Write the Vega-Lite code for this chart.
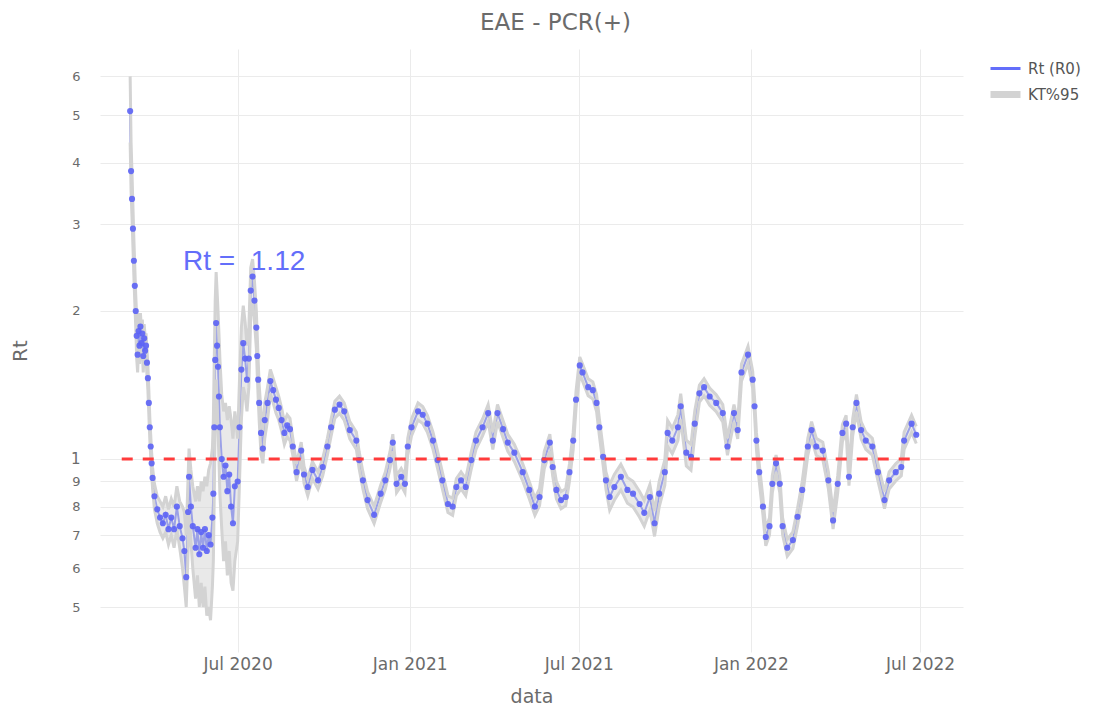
{
  "$schema": "https://vega.github.io/schema/vega-lite/v6.json",
  "width": 863,
  "height": 603,
  "autosize": {"type": "none"},
  "padding": {"left": 100, "top": 49, "right": 144, "bottom": 57},
  "background": "white",
  "config": {"view": {"stroke": null}, "font": "DejaVu Sans"},
  "title": {"text": "EAE - PCR(+)", "anchor": "middle", "frame": "group", "dx": 24, "fontSize": 23, "font": "DejaVu Sans", "fontWeight": "normal", "color": "#6b6b6b", "offset": 14},
  "datasets": {
    "rt": [
      {"d":"2020-03-08","r":5.1,"lo":4.4,"hi":6.0},
      {"d":"2020-03-09","r":3.85,"lo":3.5,"hi":4.4},
      {"d":"2020-03-10","r":3.38,"lo":3.1,"hi":3.8},
      {"d":"2020-03-11","r":2.94,"lo":2.7,"hi":3.25},
      {"d":"2020-03-12","r":2.53,"lo":2.35,"hi":2.8},
      {"d":"2020-03-13","r":2.25,"lo":2.08,"hi":2.45},
      {"d":"2020-03-14","r":2.0,"lo":1.85,"hi":2.15},
      {"d":"2020-03-15","r":1.78,"lo":1.6,"hi":1.95},
      {"d":"2020-03-16","r":1.63,"lo":1.5,"hi":1.82},
      {"d":"2020-03-17","r":1.82,"lo":1.68,"hi":1.98},
      {"d":"2020-03-18","r":1.7,"lo":1.56,"hi":1.86},
      {"d":"2020-03-19","r":1.86,"lo":1.72,"hi":1.98},
      {"d":"2020-03-20","r":1.72,"lo":1.6,"hi":1.85},
      {"d":"2020-03-21","r":1.8,"lo":1.66,"hi":1.92},
      {"d":"2020-03-22","r":1.62,"lo":1.5,"hi":1.76},
      {"d":"2020-03-23","r":1.76,"lo":1.64,"hi":1.88},
      {"d":"2020-03-24","r":1.66,"lo":1.55,"hi":1.78},
      {"d":"2020-03-25","r":1.7,"lo":1.6,"hi":1.8},
      {"d":"2020-03-26","r":1.57,"lo":1.48,"hi":1.67},
      {"d":"2020-03-27","r":1.46,"lo":1.38,"hi":1.55},
      {"d":"2020-03-28","r":1.3,"lo":1.23,"hi":1.38},
      {"d":"2020-03-29","r":1.16,"lo":1.1,"hi":1.22},
      {"d":"2020-03-30","r":1.06,"lo":1.01,"hi":1.12},
      {"d":"2020-03-31","r":0.98,"lo":0.93,"hi":1.03},
      {"d":"2020-04-01","r":0.915,"lo":0.87,"hi":0.96},
      {"d":"2020-04-03","r":0.84,"lo":0.79,"hi":0.89},
      {"d":"2020-04-06","r":0.79,"lo":0.74,"hi":0.84},
      {"d":"2020-04-09","r":0.76,"lo":0.71,"hi":0.82},
      {"d":"2020-04-12","r":0.74,"lo":0.69,"hi":0.8},
      {"d":"2020-04-15","r":0.77,"lo":0.71,"hi":0.84},
      {"d":"2020-04-18","r":0.72,"lo":0.67,"hi":0.79},
      {"d":"2020-04-21","r":0.76,"lo":0.7,"hi":0.83},
      {"d":"2020-04-24","r":0.72,"lo":0.66,"hi":0.8},
      {"d":"2020-04-27","r":0.8,"lo":0.72,"hi":0.88},
      {"d":"2020-04-30","r":0.73,"lo":0.66,"hi":0.82},
      {"d":"2020-05-03","r":0.69,"lo":0.6,"hi":0.8},
      {"d":"2020-05-05","r":0.65,"lo":0.55,"hi":0.78},
      {"d":"2020-05-07","r":0.575,"lo":0.5,"hi":0.7},
      {"d":"2020-05-09","r":0.78,"lo":0.65,"hi":0.92},
      {"d":"2020-05-10","r":0.92,"lo":0.78,"hi":1.05},
      {"d":"2020-05-12","r":0.8,"lo":0.68,"hi":0.95},
      {"d":"2020-05-14","r":0.73,"lo":0.6,"hi":0.88},
      {"d":"2020-05-17","r":0.66,"lo":0.52,"hi":0.82},
      {"d":"2020-05-19","r":0.72,"lo":0.58,"hi":0.88},
      {"d":"2020-05-21","r":0.64,"lo":0.5,"hi":0.82},
      {"d":"2020-05-23","r":0.71,"lo":0.56,"hi":0.9},
      {"d":"2020-05-25","r":0.66,"lo":0.5,"hi":0.86},
      {"d":"2020-05-27","r":0.72,"lo":0.55,"hi":0.92},
      {"d":"2020-05-29","r":0.65,"lo":0.48,"hi":0.88},
      {"d":"2020-05-31","r":0.7,"lo":0.5,"hi":0.95},
      {"d":"2020-06-02","r":0.67,"lo":0.47,"hi":0.98},
      {"d":"2020-06-04","r":0.76,"lo":0.55,"hi":1.05},
      {"d":"2020-06-05","r":0.85,"lo":0.62,"hi":1.2},
      {"d":"2020-06-06","r":1.16,"lo":0.85,"hi":1.6},
      {"d":"2020-06-07","r":1.59,"lo":1.2,"hi":2.1},
      {"d":"2020-06-08","r":1.89,"lo":1.45,"hi":2.4},
      {"d":"2020-06-09","r":1.7,"lo":1.3,"hi":2.2},
      {"d":"2020-06-10","r":1.54,"lo":1.15,"hi":2.0},
      {"d":"2020-06-11","r":1.34,"lo":1.0,"hi":1.8},
      {"d":"2020-06-12","r":1.16,"lo":0.85,"hi":1.6},
      {"d":"2020-06-14","r":1.0,"lo":0.72,"hi":1.35},
      {"d":"2020-06-16","r":0.92,"lo":0.62,"hi":1.25},
      {"d":"2020-06-18","r":0.97,"lo":0.68,"hi":1.3},
      {"d":"2020-06-20","r":0.86,"lo":0.58,"hi":1.2},
      {"d":"2020-06-22","r":0.93,"lo":0.65,"hi":1.28},
      {"d":"2020-06-24","r":0.8,"lo":0.56,"hi":1.2},
      {"d":"2020-06-26","r":0.74,"lo":0.54,"hi":1.1},
      {"d":"2020-06-28","r":0.88,"lo":0.62,"hi":1.25},
      {"d":"2020-07-01","r":0.9,"lo":0.68,"hi":1.1},
      {"d":"2020-07-03","r":1.16,"lo":0.9,"hi":1.45},
      {"d":"2020-07-05","r":1.52,"lo":1.2,"hi":1.85},
      {"d":"2020-07-07","r":1.72,"lo":1.4,"hi":2.05},
      {"d":"2020-07-09","r":1.6,"lo":1.35,"hi":1.9},
      {"d":"2020-07-11","r":1.45,"lo":1.25,"hi":1.7},
      {"d":"2020-07-13","r":1.6,"lo":1.4,"hi":1.85},
      {"d":"2020-07-15","r":2.2,"lo":1.95,"hi":2.45},
      {"d":"2020-07-17","r":2.35,"lo":2.1,"hi":2.55},
      {"d":"2020-07-19","r":2.1,"lo":1.9,"hi":2.3},
      {"d":"2020-07-21","r":1.85,"lo":1.68,"hi":2.0},
      {"d":"2020-07-22","r":1.62,"lo":1.48,"hi":1.78},
      {"d":"2020-07-23","r":1.45,"lo":1.33,"hi":1.58},
      {"d":"2020-07-24","r":1.3,"lo":1.2,"hi":1.42},
      {"d":"2020-07-26","r":1.13,"lo":1.02,"hi":1.25},
      {"d":"2020-07-28","r":1.05,"lo":0.98,"hi":1.14},
      {"d":"2020-07-30","r":1.2,"lo":1.1,"hi":1.3},
      {"d":"2020-08-02","r":1.3,"lo":1.2,"hi":1.4},
      {"d":"2020-08-05","r":1.44,"lo":1.36,"hi":1.52},
      {"d":"2020-08-08","r":1.38,"lo":1.3,"hi":1.46},
      {"d":"2020-08-11","r":1.32,"lo":1.24,"hi":1.4},
      {"d":"2020-08-14","r":1.27,"lo":1.2,"hi":1.34},
      {"d":"2020-08-17","r":1.2,"lo":1.14,"hi":1.27},
      {"d":"2020-08-20","r":1.13,"lo":1.07,"hi":1.19},
      {"d":"2020-08-23","r":1.17,"lo":1.11,"hi":1.23},
      {"d":"2020-08-26","r":1.15,"lo":1.09,"hi":1.21},
      {"d":"2020-08-29","r":1.06,"lo":1.018,"hi":1.102},
      {"d":"2020-09-02","r":0.94,"lo":0.902,"hi":0.978},
      {"d":"2020-09-07","r":1.04,"lo":0.998,"hi":1.082},
      {"d":"2020-09-10","r":0.93,"lo":0.893,"hi":0.967},
      {"d":"2020-09-14","r":0.877,"lo":0.842,"hi":0.912},
      {"d":"2020-09-19","r":0.95,"lo":0.912,"hi":0.988},
      {"d":"2020-09-25","r":0.905,"lo":0.869,"hi":0.941},
      {"d":"2020-09-30","r":0.963,"lo":0.924,"hi":1.002},
      {"d":"2020-10-05","r":1.06,"lo":1.018,"hi":1.102},
      {"d":"2020-10-09","r":1.16,"lo":1.114,"hi":1.206},
      {"d":"2020-10-13","r":1.26,"lo":1.21,"hi":1.31},
      {"d":"2020-10-18","r":1.29,"lo":1.238,"hi":1.342},
      {"d":"2020-10-23","r":1.25,"lo":1.2,"hi":1.3},
      {"d":"2020-10-29","r":1.145,"lo":1.099,"hi":1.191},
      {"d":"2020-11-05","r":1.09,"lo":1.046,"hi":1.134},
      {"d":"2020-11-08","r":0.995,"lo":0.955,"hi":1.035},
      {"d":"2020-11-12","r":0.905,"lo":0.869,"hi":0.941},
      {"d":"2020-11-17","r":0.825,"lo":0.792,"hi":0.858},
      {"d":"2020-11-24","r":0.77,"lo":0.739,"hi":0.801},
      {"d":"2020-12-01","r":0.85,"lo":0.816,"hi":0.884},
      {"d":"2020-12-06","r":0.905,"lo":0.869,"hi":0.941},
      {"d":"2020-12-11","r":0.995,"lo":0.955,"hi":1.035},
      {"d":"2020-12-14","r":1.08,"lo":1.037,"hi":1.123},
      {"d":"2020-12-18","r":0.89,"lo":0.854,"hi":0.926},
      {"d":"2020-12-23","r":0.92,"lo":0.883,"hi":0.957},
      {"d":"2020-12-27","r":0.89,"lo":0.854,"hi":0.926},
      {"d":"2020-12-30","r":1.06,"lo":1.018,"hi":1.102},
      {"d":"2021-01-03","r":1.16,"lo":1.114,"hi":1.206},
      {"d":"2021-01-10","r":1.25,"lo":1.2,"hi":1.3},
      {"d":"2021-01-15","r":1.23,"lo":1.181,"hi":1.279},
      {"d":"2021-01-20","r":1.18,"lo":1.133,"hi":1.227},
      {"d":"2021-01-26","r":1.09,"lo":1.046,"hi":1.134},
      {"d":"2021-01-31","r":0.995,"lo":0.955,"hi":1.035},
      {"d":"2021-02-05","r":0.905,"lo":0.869,"hi":0.941},
      {"d":"2021-02-11","r":0.81,"lo":0.778,"hi":0.842},
      {"d":"2021-02-16","r":0.8,"lo":0.768,"hi":0.832},
      {"d":"2021-02-20","r":0.877,"lo":0.842,"hi":0.912},
      {"d":"2021-02-25","r":0.905,"lo":0.869,"hi":0.941},
      {"d":"2021-03-02","r":0.877,"lo":0.842,"hi":0.912},
      {"d":"2021-03-08","r":0.995,"lo":0.955,"hi":1.035},
      {"d":"2021-03-13","r":1.09,"lo":1.046,"hi":1.134},
      {"d":"2021-03-20","r":1.16,"lo":1.114,"hi":1.206},
      {"d":"2021-03-26","r":1.24,"lo":1.19,"hi":1.29},
      {"d":"2021-03-31","r":1.09,"lo":1.046,"hi":1.134},
      {"d":"2021-04-05","r":1.24,"lo":1.19,"hi":1.29},
      {"d":"2021-04-11","r":1.15,"lo":1.104,"hi":1.196},
      {"d":"2021-04-16","r":1.08,"lo":1.037,"hi":1.123},
      {"d":"2021-04-23","r":1.03,"lo":0.989,"hi":1.071},
      {"d":"2021-05-02","r":0.94,"lo":0.902,"hi":0.978},
      {"d":"2021-05-09","r":0.865,"lo":0.83,"hi":0.9},
      {"d":"2021-05-15","r":0.8,"lo":0.768,"hi":0.832},
      {"d":"2021-05-20","r":0.837,"lo":0.804,"hi":0.87},
      {"d":"2021-05-25","r":0.995,"lo":0.955,"hi":1.035},
      {"d":"2021-05-31","r":1.08,"lo":1.037,"hi":1.123},
      {"d":"2021-06-03","r":0.963,"lo":0.924,"hi":1.002},
      {"d":"2021-06-07","r":0.865,"lo":0.83,"hi":0.9},
      {"d":"2021-06-12","r":0.825,"lo":0.792,"hi":0.858},
      {"d":"2021-06-17","r":0.837,"lo":0.804,"hi":0.87},
      {"d":"2021-06-21","r":0.94,"lo":0.902,"hi":0.978},
      {"d":"2021-06-25","r":1.09,"lo":1.046,"hi":1.134},
      {"d":"2021-06-28","r":1.32,"lo":1.267,"hi":1.373},
      {"d":"2021-07-02","r":1.55,"lo":1.488,"hi":1.612},
      {"d":"2021-07-05","r":1.5,"lo":1.44,"hi":1.56},
      {"d":"2021-07-11","r":1.4,"lo":1.344,"hi":1.456},
      {"d":"2021-07-16","r":1.38,"lo":1.325,"hi":1.435},
      {"d":"2021-07-20","r":1.3,"lo":1.248,"hi":1.352},
      {"d":"2021-07-23","r":1.16,"lo":1.114,"hi":1.206},
      {"d":"2021-07-27","r":1.01,"lo":0.97,"hi":1.05},
      {"d":"2021-07-30","r":0.905,"lo":0.869,"hi":0.941},
      {"d":"2021-08-03","r":0.837,"lo":0.787,"hi":0.887},
      {"d":"2021-08-08","r":0.877,"lo":0.824,"hi":0.93},
      {"d":"2021-08-15","r":0.92,"lo":0.865,"hi":0.975},
      {"d":"2021-08-22","r":0.865,"lo":0.813,"hi":0.917},
      {"d":"2021-08-28","r":0.85,"lo":0.799,"hi":0.901},
      {"d":"2021-09-04","r":0.81,"lo":0.761,"hi":0.859},
      {"d":"2021-09-09","r":0.777,"lo":0.73,"hi":0.824},
      {"d":"2021-09-15","r":0.837,"lo":0.787,"hi":0.887},
      {"d":"2021-09-20","r":0.74,"lo":0.696,"hi":0.784},
      {"d":"2021-09-25","r":0.85,"lo":0.799,"hi":0.901},
      {"d":"2021-10-01","r":0.94,"lo":0.884,"hi":0.996},
      {"d":"2021-10-04","r":1.13,"lo":1.062,"hi":1.198},
      {"d":"2021-10-09","r":1.09,"lo":1.025,"hi":1.155},
      {"d":"2021-10-15","r":1.16,"lo":1.09,"hi":1.23},
      {"d":"2021-10-18","r":1.28,"lo":1.203,"hi":1.357},
      {"d":"2021-10-24","r":1.03,"lo":0.968,"hi":1.092},
      {"d":"2021-10-29","r":1.01,"lo":0.949,"hi":1.071},
      {"d":"2021-11-02","r":1.18,"lo":1.109,"hi":1.251},
      {"d":"2021-11-07","r":1.36,"lo":1.306,"hi":1.414},
      {"d":"2021-11-12","r":1.4,"lo":1.344,"hi":1.456},
      {"d":"2021-11-18","r":1.34,"lo":1.286,"hi":1.394},
      {"d":"2021-11-25","r":1.3,"lo":1.248,"hi":1.352},
      {"d":"2021-12-02","r":1.24,"lo":1.19,"hi":1.29},
      {"d":"2021-12-07","r":1.06,"lo":1.018,"hi":1.102},
      {"d":"2021-12-14","r":1.24,"lo":1.19,"hi":1.29},
      {"d":"2021-12-18","r":1.145,"lo":1.099,"hi":1.191},
      {"d":"2021-12-22","r":1.5,"lo":1.44,"hi":1.56},
      {"d":"2021-12-29","r":1.63,"lo":1.565,"hi":1.695},
      {"d":"2022-01-03","r":1.45,"lo":1.392,"hi":1.508},
      {"d":"2022-01-05","r":1.28,"lo":1.229,"hi":1.331},
      {"d":"2022-01-07","r":1.09,"lo":1.046,"hi":1.134},
      {"d":"2022-01-10","r":0.94,"lo":0.902,"hi":0.978},
      {"d":"2022-01-14","r":0.8,"lo":0.768,"hi":0.832},
      {"d":"2022-01-17","r":0.694,"lo":0.666,"hi":0.722},
      {"d":"2022-01-21","r":0.73,"lo":0.701,"hi":0.759},
      {"d":"2022-01-24","r":0.89,"lo":0.854,"hi":0.926},
      {"d":"2022-01-28","r":0.98,"lo":0.941,"hi":1.019},
      {"d":"2022-02-01","r":0.89,"lo":0.854,"hi":0.926},
      {"d":"2022-02-04","r":0.73,"lo":0.701,"hi":0.759},
      {"d":"2022-02-09","r":0.66,"lo":0.634,"hi":0.686},
      {"d":"2022-02-15","r":0.684,"lo":0.657,"hi":0.711},
      {"d":"2022-02-20","r":0.763,"lo":0.732,"hi":0.794},
      {"d":"2022-02-25","r":0.865,"lo":0.83,"hi":0.9},
      {"d":"2022-03-03","r":1.06,"lo":1.018,"hi":1.102},
      {"d":"2022-03-07","r":1.145,"lo":1.099,"hi":1.191},
      {"d":"2022-03-12","r":1.06,"lo":1.018,"hi":1.102},
      {"d":"2022-03-19","r":1.04,"lo":0.998,"hi":1.082},
      {"d":"2022-03-25","r":0.905,"lo":0.869,"hi":0.941},
      {"d":"2022-03-30","r":0.75,"lo":0.72,"hi":0.78},
      {"d":"2022-04-04","r":0.89,"lo":0.854,"hi":0.926},
      {"d":"2022-04-09","r":1.13,"lo":1.085,"hi":1.175},
      {"d":"2022-04-13","r":1.18,"lo":1.133,"hi":1.227},
      {"d":"2022-04-16","r":0.92,"lo":0.883,"hi":0.957},
      {"d":"2022-04-20","r":1.16,"lo":1.114,"hi":1.206},
      {"d":"2022-04-24","r":1.3,"lo":1.248,"hi":1.352},
      {"d":"2022-04-29","r":1.145,"lo":1.099,"hi":1.191},
      {"d":"2022-05-04","r":1.09,"lo":1.046,"hi":1.134},
      {"d":"2022-05-11","r":1.06,"lo":1.018,"hi":1.102},
      {"d":"2022-05-17","r":0.94,"lo":0.902,"hi":0.978},
      {"d":"2022-05-24","r":0.825,"lo":0.792,"hi":0.858},
      {"d":"2022-05-29","r":0.905,"lo":0.869,"hi":0.941},
      {"d":"2022-06-05","r":0.94,"lo":0.902,"hi":0.978},
      {"d":"2022-06-11","r":0.963,"lo":0.924,"hi":1.002},
      {"d":"2022-06-14","r":1.09,"lo":1.046,"hi":1.134},
      {"d":"2022-06-22","r":1.18,"lo":1.133,"hi":1.227},
      {"d":"2022-06-27","r":1.12,"lo":1.075,"hi":1.165}
    ],
    "ref": [
      {"d":"2020-02-28","v":1},
      {"d":"2022-06-28","v":1}
    ],
    "ann": [
      {"d":"2020-07-08","v":2.52,"label":"Rt = \u00a01.12"}
    ]
  },
  "encoding": {
    "x": {
      "field": "d", "type": "temporal", "title": "data",
      "scale": {"type": "utc", "domain": [{"year": 2020, "month": 2, "date": 4, "hours": 18, "utc": true}, {"year": 2022, "month": 8, "date": 16, "utc": true}]},
      "axis": {
        "values": [
          {"year": 2020, "month": 7, "date": 1, "utc": true},
          {"year": 2021, "month": 1, "date": 1, "utc": true},
          {"year": 2021, "month": 7, "date": 1, "utc": true},
          {"year": 2022, "month": 1, "date": 1, "utc": true},
          {"year": 2022, "month": 7, "date": 1, "utc": true}
        ],
        "labelExpr": "utcFormat(datum.value, '%b %Y')",
        "grid": true, "gridColor": "#ebebeb", "gridWidth": 1,
        "domain": false, "ticks": false,
        "labelFont": "DejaVu Sans", "labelFontSize": 17, "labelColor": "#6b6b6b", "labelPadding": 4,
        "labelFlush": false, "labelOverlap": false,
        "titleFont": "DejaVu Sans", "titleFontSize": 19, "titleFontWeight": "normal", "titleColor": "#6b6b6b", "titlePadding": 15
      }
    }
  },
  "layer": [
    {
      "data": {"name": "rt"},
      "mark": {"type": "line", "strokeWidth": 2},
      "encoding": {
        "y": {
          "field": "r", "type": "quantitative", "title": "Rt",
          "scale": {"type": "log", "domain": [0.405, 6.82], "nice": false, "zero": false},
          "axis": {
            "values": [0.5, 0.6, 0.7, 0.8, 0.9, 1, 2, 3, 4, 5, 6],
            "labelExpr": "datum.value < 0.99 ? format(datum.value * 10, 'd') : format(datum.value, 'd')",
            "grid": true, "gridColor": "#ebebeb", "gridWidth": 1,
            "domain": false, "ticks": false,
            "labelFont": "DejaVu Sans", "labelColor": "#6b6b6b", "labelPadding": 20,
            "labelFontSize": {"condition": {"test": "datum.value == 1", "value": 15}, "value": 13},
            "titleFont": "DejaVu Sans", "titleFontSize": 20, "titleFontWeight": "normal", "titleColor": "#6b6b6b", "titlePadding": 40
          }
        },
        "color": {
          "datum": "Rt (R0)",
          "scale": {"domain": ["Rt (R0)", "KT%95"], "range": ["#636efa", "#d3d3d3"]},
          "legend": {
            "title": null, "orient": "none", "legendX": 898, "legendY": 12,
            "symbolType": "stroke", "symbolSize": 900, "symbolStrokeWidth": 3,
            "labelFont": "DejaVu Sans", "labelFontSize": 15, "labelColor": "#555555",
            "labelOffset": 15, "rowPadding": 3,
            "encode": {"symbols": {"update": {"strokeWidth": {"signal": "datum.value === 'KT%95' ? 7 : 3"}}}}
          }
        }
      }
    },
    {
      "data": {"name": "rt"},
      "mark": {"type": "area", "color": "#d3d3d3", "opacity": 0.5},
      "encoding": {
        "y": {"field": "lo", "type": "quantitative", "title": "Rt"},
        "y2": {"field": "hi"}
      }
    },
    {
      "data": {"name": "rt"},
      "mark": {"type": "line", "strokeWidth": 3},
      "encoding": {
        "y": {"field": "lo", "type": "quantitative", "title": "Rt"},
        "color": {"datum": "KT%95"}
      }
    },
    {
      "data": {"name": "rt"},
      "mark": {"type": "line", "strokeWidth": 3},
      "encoding": {
        "y": {"field": "hi", "type": "quantitative", "title": "Rt"},
        "color": {"datum": "KT%95"}
      }
    },
    {
      "data": {"name": "rt"},
      "mark": {"type": "point", "filled": true, "size": 38, "opacity": 0.9, "color": "#5c63f5"},
      "encoding": {
        "y": {"field": "r", "type": "quantitative", "title": "Rt"}
      }
    },
    {
      "data": {"name": "ref"},
      "mark": {"type": "line", "color": "#ff3b3b", "strokeWidth": 3, "strokeDash": [11, 10]},
      "encoding": {
        "y": {"field": "v", "type": "quantitative", "title": "Rt"}
      }
    },
    {
      "data": {"name": "ann"},
      "mark": {"type": "text", "font": "Liberation Sans", "fontSize": 28, "color": "#636efa", "align": "center", "baseline": "middle"},
      "encoding": {
        "y": {"field": "v", "type": "quantitative", "title": "Rt"},
        "text": {"field": "label"}
      }
    }
  ]
}
